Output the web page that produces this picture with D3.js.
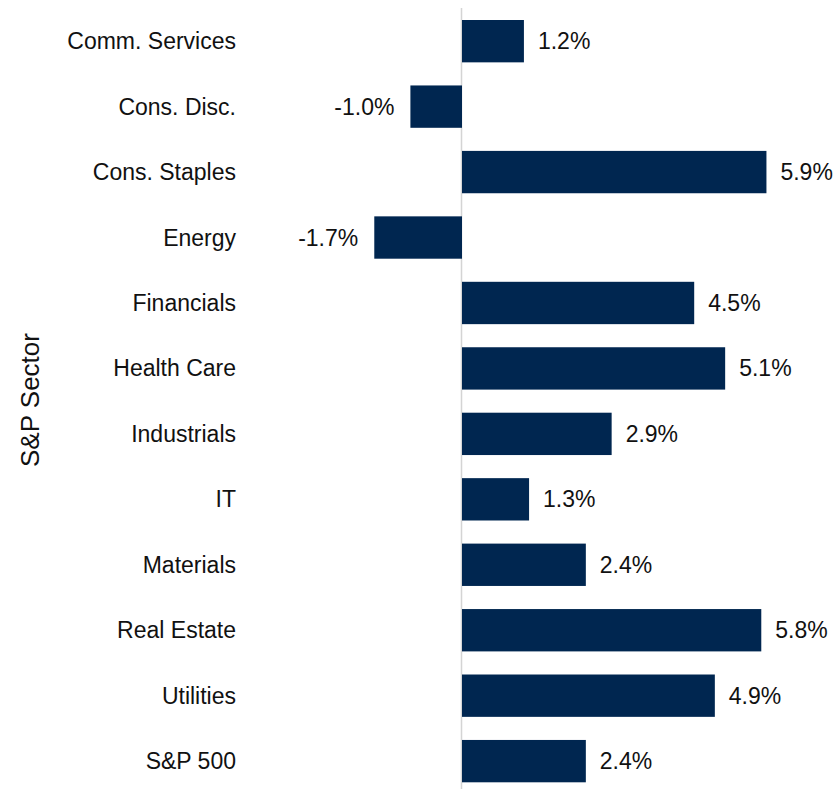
<!DOCTYPE html>
<html>
<head>
<meta charset="utf-8">
<script src="https://cdn.jsdelivr.net/npm/d3@7"></script>
<style>
  html, body { margin: 0; padding: 0; background: #ffffff; }
  svg { display: block; }
  text { font-family: "Liberation Sans", Arial, sans-serif; fill: #111111; }
</style>
</head>
<body>
<svg id="chart" width="838" height="789"></svg>
<script>
const categories = ["Comm. Services", "Cons. Disc.", "Cons. Staples", "Energy", "Financials", "Health Care", "Industrials", "IT", "Materials", "Real Estate", "Utilities", "S&P 500"];
const values = [1.2, -1.0, 5.9, -1.7, 4.5, 5.1, 2.9, 1.3, 2.4, 5.8, 4.9, 2.4];
const axisTitle = "S&P Sector";

const data = categories.map((c, i) => ({ cat: c, val: values[i] }));

const svg = d3.select("#chart");
const fontSize = 23;

const x = d3.scaleLinear().domain([0, 1]).range([462, 462 + 51.6]);
const y = d3.scaleBand().domain(categories).range([20, 782.3]).paddingInner(0.353).paddingOuter(0);

// zero line
svg.append("line")
  .attr("x1", x(0) - 0.5).attr("x2", x(0) - 0.5)
  .attr("y1", 8).attr("y2", 789)
  .attr("stroke", "#d4d4d4").attr("stroke-width", 1.5);

// bars
svg.selectAll("rect.bar").data(data).enter().append("rect")
  .attr("class", "bar")
  .attr("x", d => Math.min(x(0), x(d.val)))
  .attr("width", d => Math.abs(x(d.val) - x(0)))
  .attr("y", d => y(d.cat))
  .attr("height", y.bandwidth())
  .attr("fill", "#002650");

// value labels
svg.selectAll("text.val").data(data).enter().append("text")
  .attr("class", "val")
  .attr("x", d => d.val >= 0 ? x(d.val) + 14 : x(d.val) - 16)
  .attr("y", d => y(d.cat) + y.bandwidth() / 2)
  .attr("dy", "0.35em")
  .attr("text-anchor", d => d.val >= 0 ? "start" : "end")
  .style("font-size", fontSize + "px")
  .text(d => d3.format(".1f")(d.val).replace("\u2212", "-") + "%");

// category labels
svg.selectAll("text.cat").data(data).enter().append("text")
  .attr("class", "cat")
  .attr("x", 236)
  .attr("y", d => y(d.cat) + y.bandwidth() / 2)
  .attr("dy", "0.35em")
  .attr("text-anchor", "end")
  .style("font-size", fontSize + "px")
  .text(d => d.cat);

// axis title
svg.append("text")
  .attr("transform", "translate(39,400) rotate(-90)")
  .attr("text-anchor", "middle")
  .style("font-size", "26px")
  .text(axisTitle);
</script>
</body>
</html>
